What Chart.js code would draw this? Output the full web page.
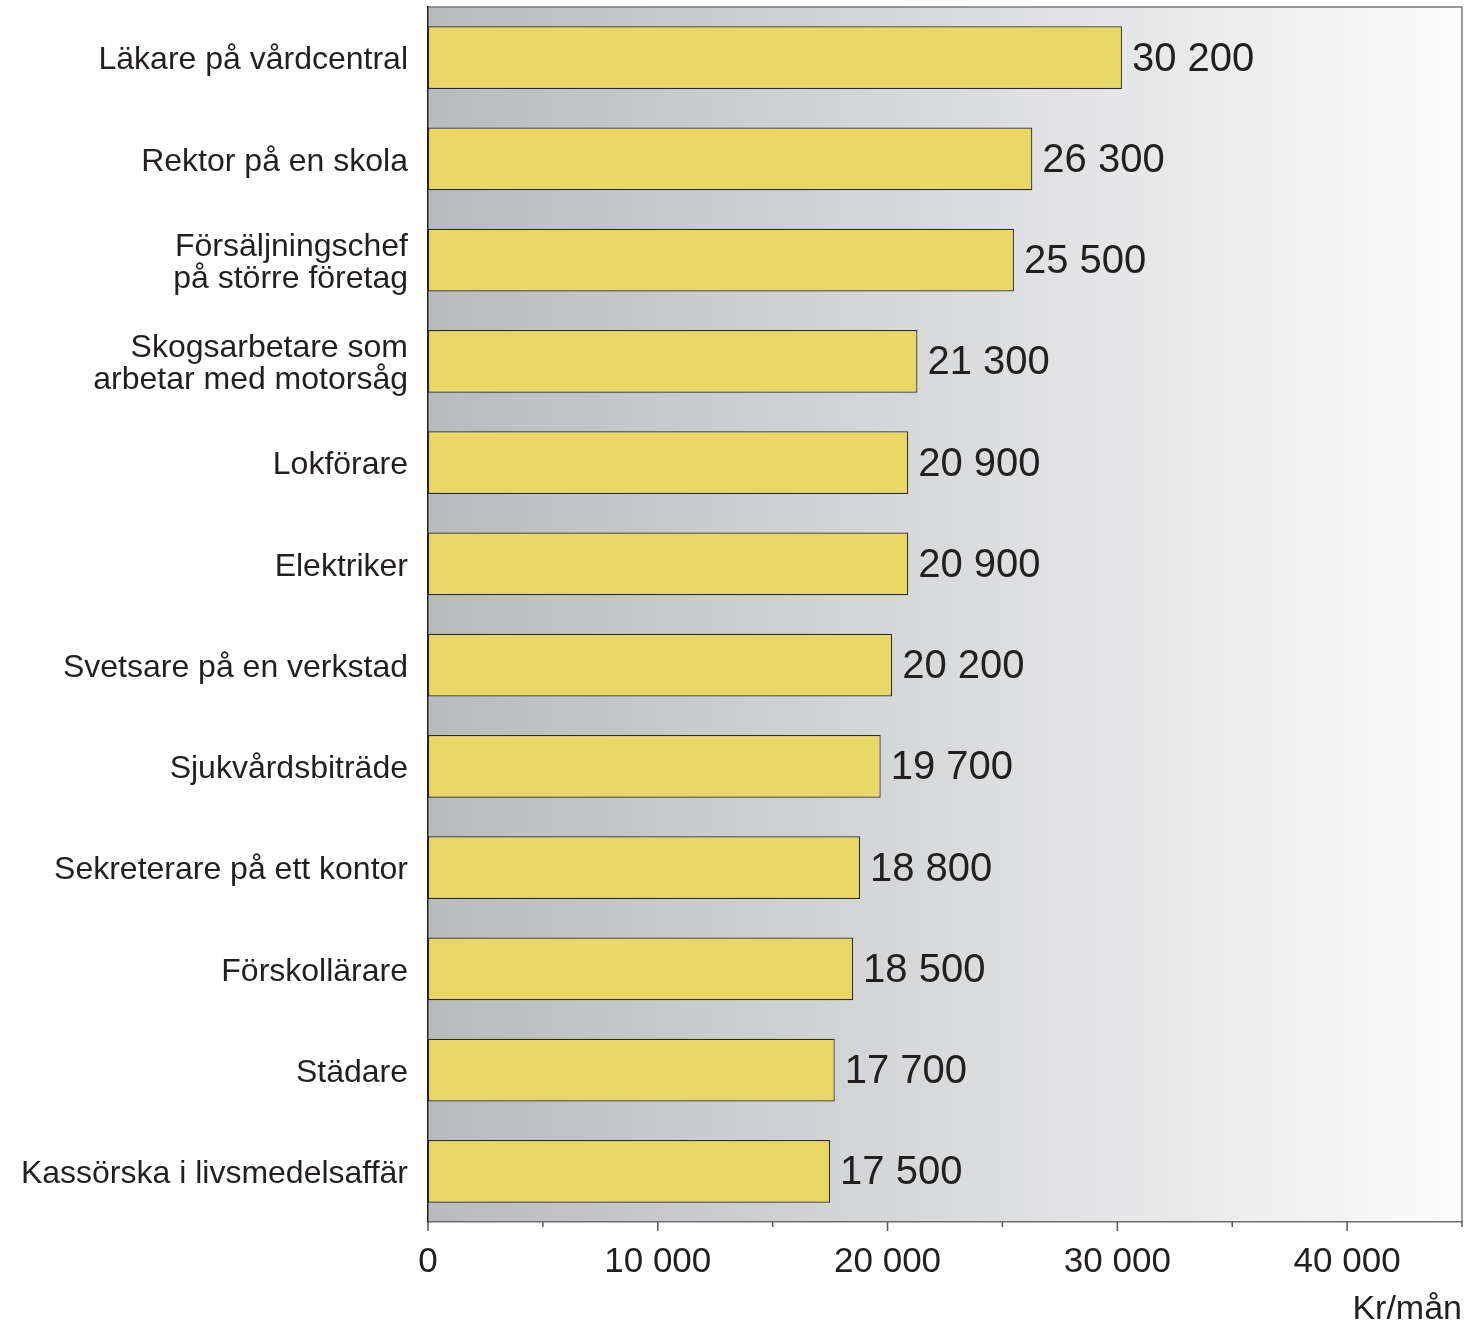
<!DOCTYPE html>
<html>
<head>
<meta charset="utf-8">
<script src="https://cdn.jsdelivr.net/npm/chart.js@4.4.1/dist/chart.umd.min.js"></script>
<style>
  html, body { margin: 0; padding: 0; background: #fff; }
  #wrap { width: 1478px; height: 1325px; }
</style>
</head>
<body>
<div id="wrap"><canvas id="salaryChart"></canvas></div>
<script>
const occupations = [
    'Läkare på vårdcentral',
    'Rektor på en skola',
    ['Försäljningschef', 'på större företag'],
    ['Skogsarbetare som', 'arbetar med motorsåg'],
    'Lokförare',
    'Elektriker',
    'Svetsare på en verkstad',
    'Sjukvårdsbiträde',
    'Sekreterare på ett kontor',
    'Förskollärare',
    'Städare',
    'Kassörska i livsmedelsaffär'
];
const salaries = [30200, 26300, 25500, 21300, 20900, 20900, 20200, 19700, 18800, 18500, 17700, 17500];
const axisMax = 45000;
const unitLabel = 'Kr/mån';

const fontFamily = '"Liberation Sans", Arial, sans-serif';
const textColor = '#231f20';

function spaced(n) {
    return String(n).replace(/\B(?=(\d{3})+(?!\d))/g, ' ');
}

// gradient behind the bars
const backgroundPlugin = {
    id: 'plotBackground',
    beforeDraw(chart) {
        const { ctx, chartArea: a } = chart;
        const g = ctx.createLinearGradient(a.left, 0, a.right, 0);
        g.addColorStop(0, '#b9babd');
        g.addColorStop(0.5, '#d9dadc');
        g.addColorStop(1, '#fcfcfc');
        ctx.save();
        ctx.fillStyle = g;
        ctx.fillRect(a.left, a.top, a.right - a.left, a.bottom - a.top);
        ctx.strokeStyle = '#7a7a7a';
        ctx.lineWidth = 1.5;
        ctx.beginPath();
        ctx.moveTo(a.left, a.top);
        ctx.lineTo(a.right, a.top);
        ctx.lineTo(a.right, a.bottom);
        ctx.stroke();
        ctx.restore();
    }
};

// ticks under the x axis, values at bar ends, unit text
const annotatePlugin = {
    id: 'annotate',
    afterDraw(chart) {
        const { ctx, chartArea: a } = chart;
        const x = chart.scales.x;
        ctx.save();
        ctx.strokeStyle = '#555';
        ctx.lineWidth = 1.5;
        x.ticks.forEach(t => {
            const px = x.getPixelForValue(t.value);
            const len = t.value % 10000 === 0 ? 9 : 5;
            ctx.beginPath();
            ctx.moveTo(px, a.bottom);
            ctx.lineTo(px, a.bottom + len);
            ctx.stroke();
        });

        ctx.fillStyle = textColor;
        ctx.font = '40px ' + fontFamily;
        ctx.textAlign = 'left';
        ctx.textBaseline = 'middle';
        chart.getDatasetMeta(0).data.forEach((bar, i) => {
            ctx.fillText(spaced(salaries[i]), bar.x + 10, bar.y + 2);
        });

        ctx.font = '34px ' + fontFamily;
        ctx.textAlign = 'right';
        ctx.textBaseline = 'alphabetic';
        ctx.fillText(unitLabel, a.right, 1319);
        ctx.restore();
    }
};

const ctx = document.getElementById('salaryChart').getContext('2d');
new Chart(ctx, {
    type: 'bar',
    data: {
        labels: occupations,
        datasets: [{
            data: salaries,
            backgroundColor: '#e8d765',
            borderColor: '#2b2b2b',
            borderWidth: 1.2,
            borderSkipped: false,
            categoryPercentage: 1,
            barPercentage: 0.62
        }]
    },
    options: {
        indexAxis: 'y',
        responsive: true,
        maintainAspectRatio: false,
        animation: false,
        layout: { padding: { top: 7, right: 16, left: 0, bottom: 0 } },
        plugins: {
            legend: { display: false },
            tooltip: { enabled: false }
        },
        scales: {
            x: {
                min: 0,
                max: axisMax,
                afterFit(scale) {
                    scale.height = 103;
                    scale.paddingLeft = 0;
                    scale.paddingRight = 0;
                },
                grid: { display: false, drawTicks: false },
                border: { display: true, color: '#6e6e6e', width: 1.5 },
                ticks: {
                    stepSize: 5000,
                    autoSkip: false,
                    maxRotation: 0,
                    padding: 19,
                    color: textColor,
                    font: { family: fontFamily, size: 35 },
                    callback: v => (v % 10000 === 0 ? spaced(v) : '')
                }
            },
            y: {
                afterFit(scale) {
                    scale.width = 428;
                    scale.paddingTop = 0;
                    scale.paddingBottom = 0;
                },
                grid: { display: false, drawTicks: false },
                border: { display: true, color: '#222', width: 1.5 },
                ticks: {
                    padding: 20,
                    labelOffset: 3,
                    color: textColor,
                    font: { family: fontFamily, size: 32, lineHeight: 1.0 }
                }
            }
        }
    },
    plugins: [backgroundPlugin, annotatePlugin]
});
</script>
</body>
</html>
